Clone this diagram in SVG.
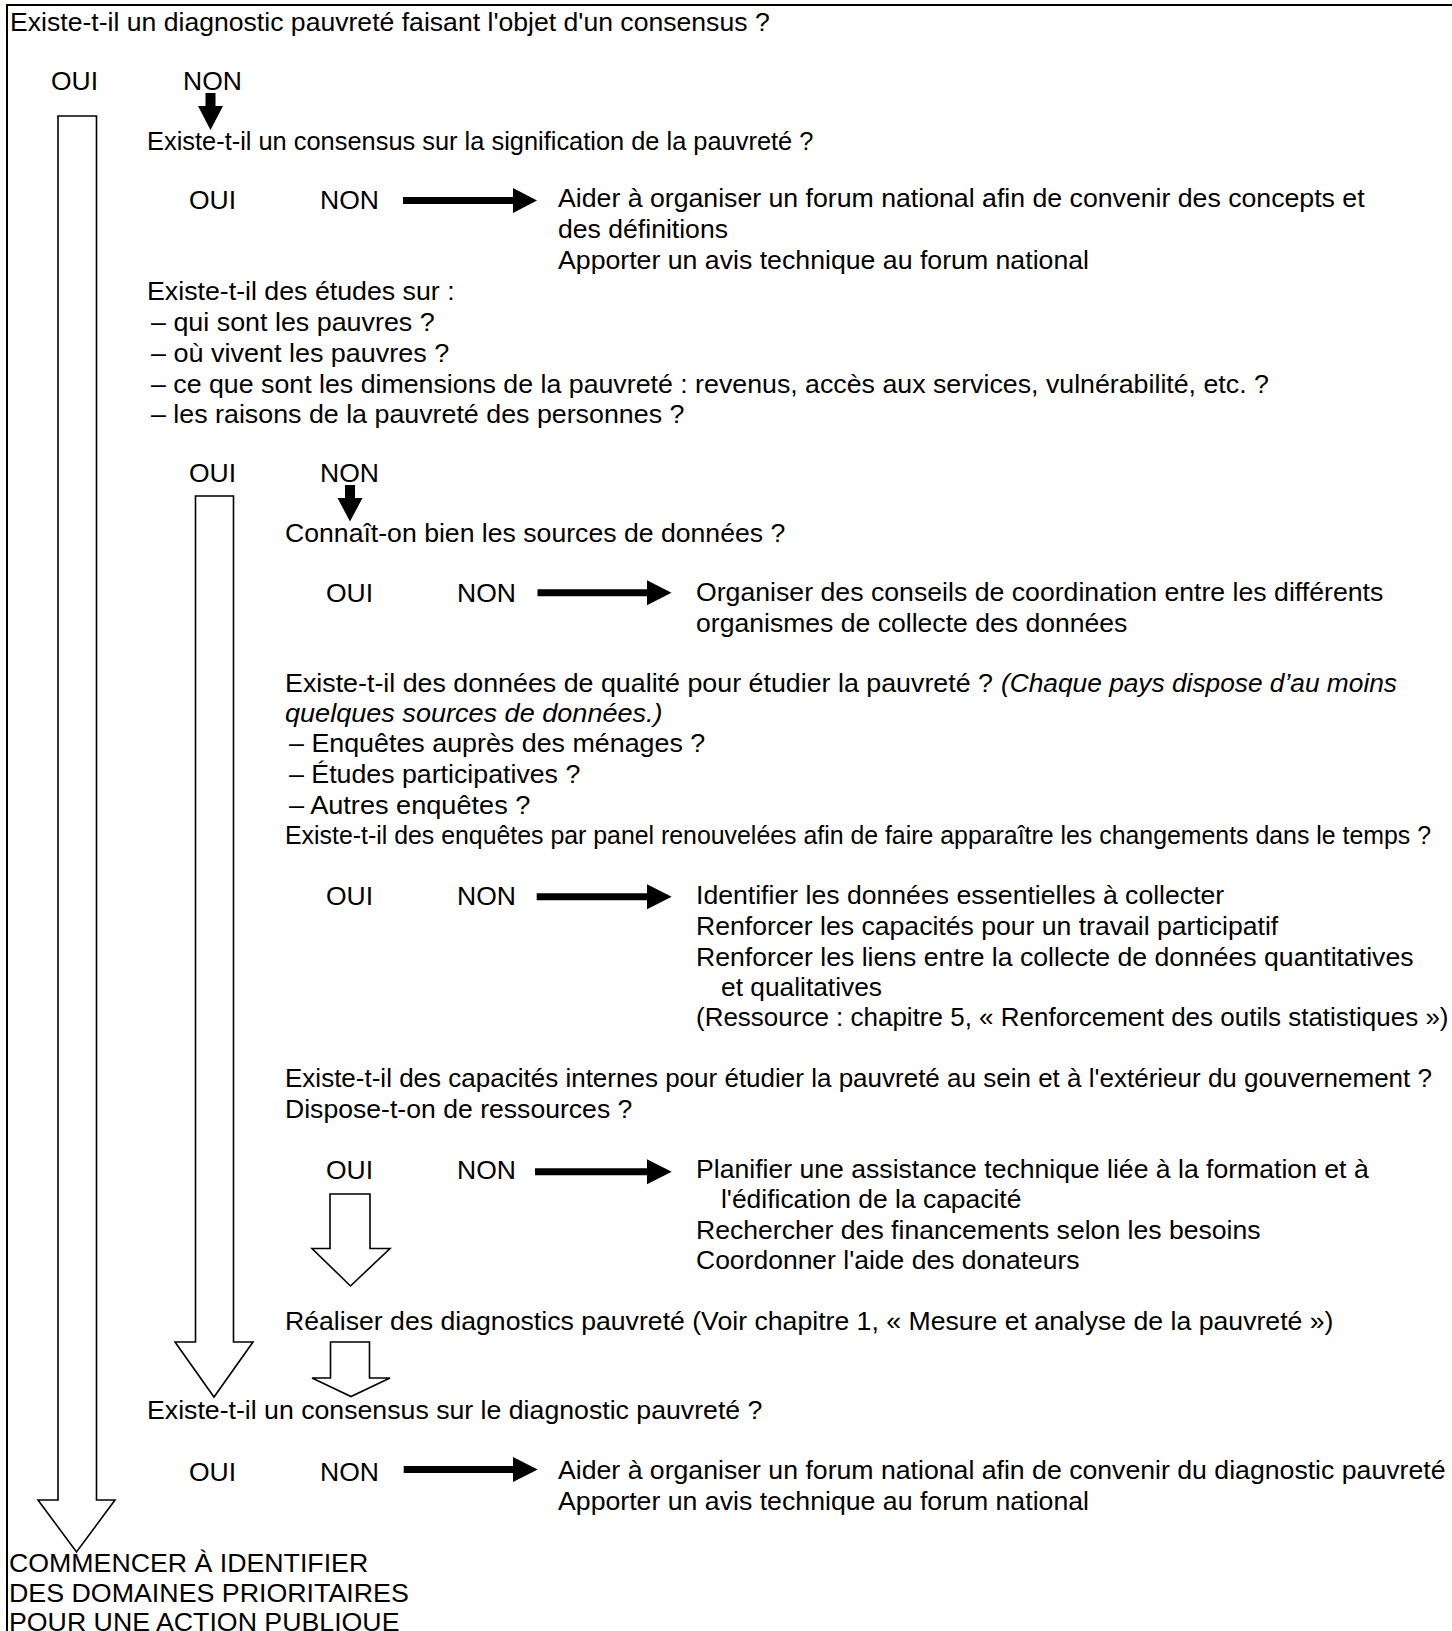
<svg xmlns="http://www.w3.org/2000/svg" width="1452" height="1631" viewBox="0 0 1452 1631">
<style>
text{font-family:"Liberation Sans",Arial,Helvetica,sans-serif;font-size:26px;fill:#000}
.it{font-style:italic}
.yn{font-size:26.5px}
.hollow{fill:#fff;stroke:#000;stroke-width:1.6;stroke-linejoin:miter}
.solid{fill:#000;stroke:none}
.frame{fill:none;stroke:#000;stroke-width:2}
</style>
<rect x="0" y="0" width="1452" height="1631" fill="#fff"/>
<path class="frame" d="M7,1631 V5 H1452"/>
<g id="connectors">
<path class="hollow" d="M58,116 H96.5 V1500 H115 L76.5,1552 L38,1500 H58 Z"/>
<path class="hollow" d="M195.5,496 H233.5 V1342 H253 L214,1397 L175,1342 H195.5 Z"/>
<path class="hollow" d="M330,1194 H370 V1248.5 H390 L350.5,1286 L312,1248.5 H330 Z"/>
<path class="hollow" d="M330.5,1342 H369.5 V1378 H390 L351,1396.5 L312,1378 H330.5 Z"/>
<path class="solid" d="M205.5,93 H215.5 V106 H223 L210.5,130 L198,106 H205.5 Z"/>
<path class="solid" d="M345,485 H355 V498 H362.5 L350,521.5 L337.5,498 H345 Z"/>
<path class="solid" d="M403,197 H513 V188 L537,200.5 L513,213 V204 H403 Z"/>
<path class="solid" d="M537.5,589.3 H647 V580.3 L671.5,592.8 L647,605.3 V596.3 H537.5 Z"/>
<path class="solid" d="M536.7,893.2 H647 V884.2 L671.7,896.7 L647,909.2 V900.2 H536.7 Z"/>
<path class="solid" d="M535,1168.2 H647 V1159.2 L671.7,1171.7 L647,1184.2 V1175.2 H535 Z"/>
<path class="solid" d="M403.7,1466 H513 V1457 L537.7,1469.5 L513,1482 V1473 H403.7 Z"/>
</g>
<g id="q1"><text x="10" y="31" textLength="759.7" lengthAdjust="spacingAndGlyphs">Existe-t-il un diagnostic pauvreté faisant l'objet d'un consensus ?</text></g>
<g id="q1-oui"><text class="yn" x="51" y="90">OUI</text></g>
<g id="q1-non"><text class="yn" x="183" y="90">NON</text></g>
<g id="q2"><text x="147" y="150" textLength="666.4" lengthAdjust="spacingAndGlyphs">Existe-t-il un consensus sur la signification de la pauvreté ?</text></g>
<g id="q2-oui"><text class="yn" x="189" y="208.5">OUI</text></g>
<g id="q2-non"><text class="yn" x="320" y="208.5">NON</text></g>
<g id="a2">
<text x="558" y="207" textLength="806.6" lengthAdjust="spacingAndGlyphs">Aider à organiser un forum national afin de convenir des concepts et</text>
<text x="558" y="237.5" textLength="170" lengthAdjust="spacingAndGlyphs">des définitions</text>
<text x="558" y="268.5" textLength="531" lengthAdjust="spacingAndGlyphs">Apporter un avis technique au forum national</text>
</g>
<g id="q3">
<text x="147" y="299.5" textLength="307.6" lengthAdjust="spacingAndGlyphs">Existe-t-il des études sur :</text>
<text x="151" y="331" textLength="283.7" lengthAdjust="spacingAndGlyphs">– qui sont les pauvres ?</text>
<text x="151" y="362" textLength="298.3" lengthAdjust="spacingAndGlyphs">– où vivent les pauvres ?</text>
<text x="151" y="392.5" textLength="1117.9" lengthAdjust="spacingAndGlyphs">– ce que sont les dimensions de la pauvreté : revenus, accès aux services, vulnérabilité, etc. ?</text>
<text x="151" y="422.5" textLength="533.4" lengthAdjust="spacingAndGlyphs">– les raisons de la pauvreté des personnes ?</text>
</g>
<g id="q3-oui"><text class="yn" x="189" y="482">OUI</text></g>
<g id="q3-non"><text class="yn" x="320" y="482">NON</text></g>
<g id="q4"><text x="285" y="542" textLength="500.3" lengthAdjust="spacingAndGlyphs">Connaît-on bien les sources de données ?</text></g>
<g id="q4-oui"><text class="yn" x="326" y="601.5">OUI</text></g>
<g id="q4-non"><text class="yn" x="457" y="601.5">NON</text></g>
<g id="a4">
<text x="696" y="600.5" textLength="687.3" lengthAdjust="spacingAndGlyphs">Organiser des conseils de coordination entre les différents</text>
<text x="696" y="631.5" textLength="431.4" lengthAdjust="spacingAndGlyphs">organismes de collecte des données</text>
</g>
<g id="q5">
<text x="285" y="691.5" textLength="708" lengthAdjust="spacingAndGlyphs">Existe-t-il des données de qualité pour étudier la pauvreté ?</text>
<text class="it" x="1001" y="691.5" textLength="396" lengthAdjust="spacingAndGlyphs">(Chaque pays dispose d’au moins</text>
<text class="it" x="285" y="722" textLength="377.6" lengthAdjust="spacingAndGlyphs">quelques sources de données.)</text>
<text x="289" y="752" textLength="416.2" lengthAdjust="spacingAndGlyphs">– Enquêtes auprès des ménages ?</text>
<text x="289" y="783" textLength="291.3" lengthAdjust="spacingAndGlyphs">– Études participatives ?</text>
<text x="289" y="813.5" textLength="241.4" lengthAdjust="spacingAndGlyphs">– Autres enquêtes ?</text>
<text x="285" y="843.5" textLength="1146" lengthAdjust="spacingAndGlyphs">Existe-t-il des enquêtes par panel renouvelées afin de faire apparaître les changements dans le temps ?</text>
</g>
<g id="q5-oui"><text class="yn" x="326" y="905">OUI</text></g>
<g id="q5-non"><text class="yn" x="457" y="905">NON</text></g>
<g id="a5">
<text x="696" y="904" textLength="528.2" lengthAdjust="spacingAndGlyphs">Identifier les données essentielles à collecter</text>
<text x="696" y="935" textLength="582.2" lengthAdjust="spacingAndGlyphs">Renforcer les capacités pour un travail participatif</text>
<text x="696" y="965.5" textLength="717.5" lengthAdjust="spacingAndGlyphs">Renforcer les liens entre la collecte de données quantitatives</text>
<text x="721" y="995.5" textLength="161" lengthAdjust="spacingAndGlyphs">et qualitatives</text>
<text x="696" y="1025.5" textLength="752.5" lengthAdjust="spacingAndGlyphs">(Ressource : chapitre 5, « Renforcement des outils statistiques »)</text>
</g>
<g id="q6">
<text x="285" y="1087" textLength="1147" lengthAdjust="spacingAndGlyphs">Existe-t-il des capacités internes pour étudier la pauvreté au sein et à l'extérieur du gouvernement ?</text>
<text x="285" y="1117.5" textLength="347.4" lengthAdjust="spacingAndGlyphs">Dispose-t-on de ressources ?</text>
</g>
<g id="q6-oui"><text class="yn" x="326" y="1178.5">OUI</text></g>
<g id="q6-non"><text class="yn" x="457" y="1178.5">NON</text></g>
<g id="a6">
<text x="696" y="1177.5" textLength="672.7" lengthAdjust="spacingAndGlyphs">Planifier une assistance technique liée à la formation et à</text>
<text x="721" y="1207.5" textLength="300.4" lengthAdjust="spacingAndGlyphs">l'édification de la capacité</text>
<text x="696" y="1239" textLength="564.6" lengthAdjust="spacingAndGlyphs">Rechercher des financements selon les besoins</text>
<text x="696" y="1269" textLength="383.6" lengthAdjust="spacingAndGlyphs">Coordonner l'aide des donateurs</text>
</g>
<g id="s7"><text x="285" y="1329.5" textLength="1048.5" lengthAdjust="spacingAndGlyphs">Réaliser des diagnostics pauvreté (Voir chapitre 1, « Mesure et analyse de la pauvreté »)</text></g>
<g id="q8"><text x="147" y="1419" textLength="615.4" lengthAdjust="spacingAndGlyphs">Existe-t-il un consensus sur le diagnostic pauvreté ?</text></g>
<g id="q8-oui"><text class="yn" x="189" y="1480.5">OUI</text></g>
<g id="q8-non"><text class="yn" x="320" y="1480.5">NON</text></g>
<g id="a8">
<text x="558" y="1479" textLength="887.5" lengthAdjust="spacingAndGlyphs">Aider à organiser un forum national afin de convenir du diagnostic pauvreté</text>
<text x="558" y="1509.5" textLength="531" lengthAdjust="spacingAndGlyphs">Apporter un avis technique au forum national</text>
</g>
<g id="end">
<text x="9" y="1571.5" textLength="359.2" lengthAdjust="spacingAndGlyphs">COMMENCER À IDENTIFIER</text>
<text x="9" y="1601.5" textLength="399.8" lengthAdjust="spacingAndGlyphs">DES DOMAINES PRIORITAIRES</text>
<text x="9" y="1631" textLength="390.5" lengthAdjust="spacingAndGlyphs">POUR UNE ACTION PUBLIQUE</text>
</g>
</svg>
